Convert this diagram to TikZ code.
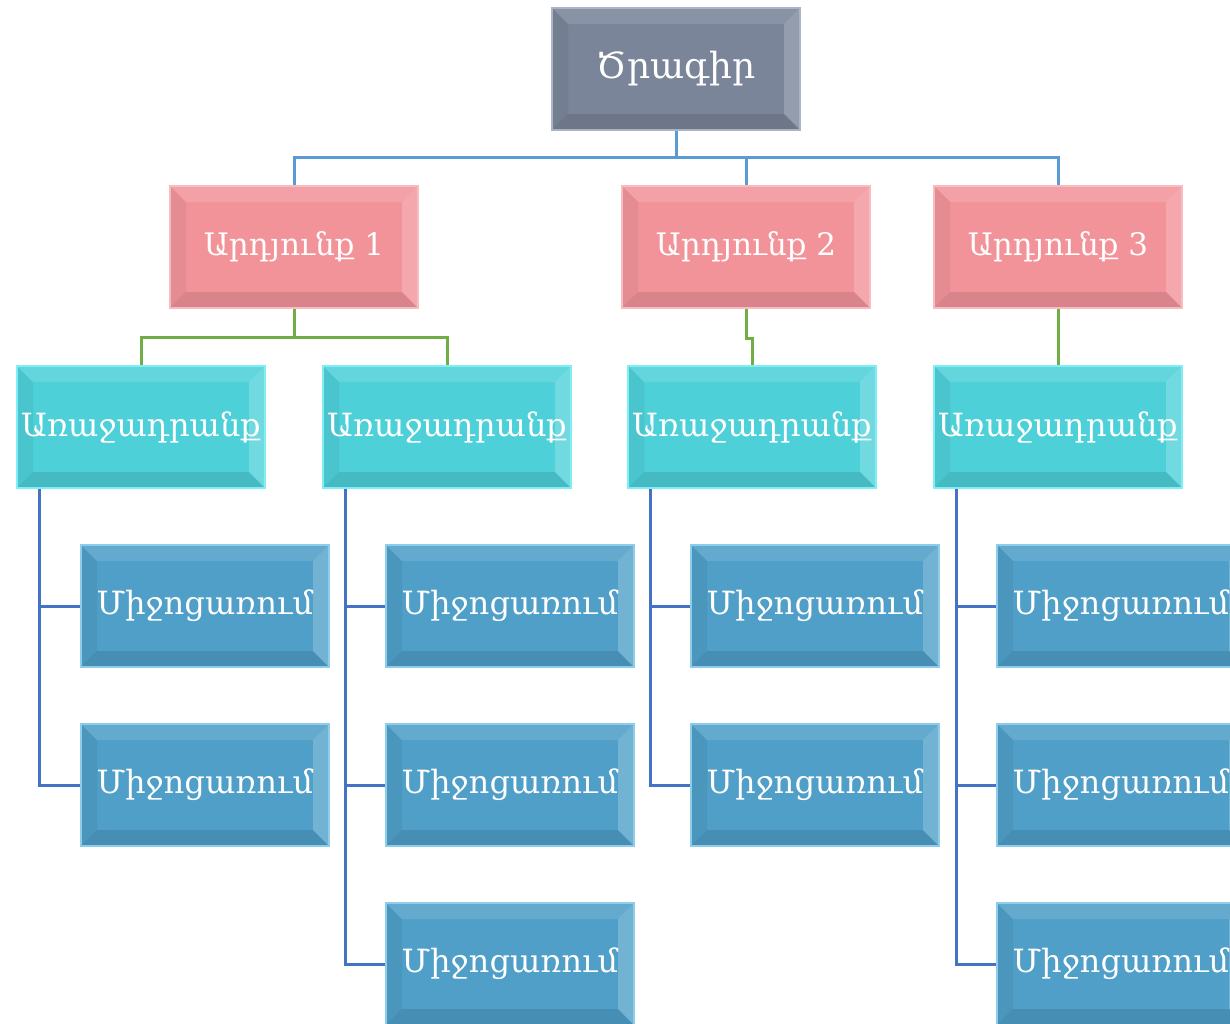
\documentclass[tikz,border=0pt]{standalone}
\usepackage{fontspec}
\newfontfamily\armfont{DejaVu Serif}
\definecolor{rootc}{HTML}{7A8599}
\definecolor{rootb}{HTML}{A9B4C6}
\definecolor{pinkc}{HTML}{F2939A}
\definecolor{pinkb}{HTML}{F7BCC0}
\definecolor{cyanc}{HTML}{4ED0D9}
\definecolor{cyanb}{HTML}{80EEF5}
\definecolor{bluec}{HTML}{4F9FC8}
\definecolor{blueb}{HTML}{8CCDEB}
\definecolor{lineA}{HTML}{5B9BD5}
\definecolor{lineB}{HTML}{70AD47}
\definecolor{lineC}{HTML}{4472C4}
\tikzset{
  bev/.style={
    path picture={
      \fill[white,opacity=0.12] (path picture bounding box.north west) -- (path picture bounding box.north east) -- ([xshift=-16pt,yshift=-16pt]path picture bounding box.north east) -- ([xshift=16pt,yshift=-16pt]path picture bounding box.north west) -- cycle;
      \fill[white,opacity=0.2] (path picture bounding box.north east) -- (path picture bounding box.south east) -- ([xshift=-16pt,yshift=16pt]path picture bounding box.south east) -- ([xshift=-16pt,yshift=-16pt]path picture bounding box.north east) -- cycle;
      \fill[black,opacity=0.1] (path picture bounding box.south west) -- (path picture bounding box.south east) -- ([xshift=-16pt,yshift=16pt]path picture bounding box.south east) -- ([xshift=16pt,yshift=16pt]path picture bounding box.south west) -- cycle;
      \fill[black,opacity=0.05] (path picture bounding box.north west) -- (path picture bounding box.south west) -- ([xshift=16pt,yshift=16pt]path picture bounding box.south west) -- ([xshift=16pt,yshift=-16pt]path picture bounding box.north west) -- cycle;
    }},
  boxbase/.style={bev, rectangle, minimum width=248pt, minimum height=122pt, inner sep=0pt, line width=2pt, text=white, font=\armfont\fontsize{32}{40}\selectfont},
  rootbox/.style={boxbase, fill=rootc, draw=rootb, font=\armfont\fontsize{36}{42}\selectfont},
  resbox/.style={boxbase, fill=pinkc, draw=pinkb, font=\armfont\fontsize{31}{40}\selectfont},
  taskbox/.style={boxbase, fill=cyanc, draw=cyanb},
  actbox/.style={boxbase, fill=bluec, draw=blueb},
  connA/.style={draw=lineA, line width=3pt},
  connB/.style={draw=lineB, line width=3pt},
  connC/.style={draw=lineC, line width=3pt},
}
\begin{document}
\begin{tikzpicture}[x=1pt,y=-1pt]
\useasboundingbox (0,0) rectangle (1230,1023);
\clip (0,0) rectangle (1230,1023);
% nodes
\node[rootbox] (root) at (676,69) {Ծրագիր};
\node[resbox] (a1) at (294,247) {Արդյունք 1};
\node[resbox] (a2) at (746,247) {Արդյունք 2};
\node[resbox] (a3) at (1058,247) {Արդյունք 3};
\node[taskbox] (b1) at (141,427) {Առաջադրանք};
\node[taskbox] (b2) at (447,427) {Առաջադրանք};
\node[taskbox] (b3) at (752,427) {Առաջադրանք};
\node[taskbox] (b4) at (1058,427) {Առաջադրանք};
\node[actbox] (c11) at (205,606) {Միջոցառում};
\node[actbox] (c12) at (205,785) {Միջոցառում};
\node[actbox] (c21) at (510,606) {Միջոցառում};
\node[actbox] (c22) at (510,785) {Միջոցառում};
\node[actbox] (c23) at (510,964) {Միջոցառում};
\node[actbox] (c31) at (815,606) {Միջոցառում};
\node[actbox] (c32) at (815,785) {Միջոցառում};
\node[actbox] (c41) at (1121,606) {Միջոցառում};
\node[actbox] (c42) at (1121,785) {Միջոցառում};
\node[actbox] (c43) at (1121,964) {Միջոցառում};
% connectors level 1
\coordinate (j0) at (676,157);
\draw[connA] (root.south) -- (j0) -| (a1.north);
\draw[connA] (j0) -| (a2.north);
\draw[connA] (j0) -| (a3.north);
% connectors level 2
\coordinate (j1) at (294,337);
\draw[connB] (a1.south) -- (j1) -| (b1.north);
\draw[connB] (j1) -| (b2.north);
\draw[connB] (a2.south) -- ++(0,29) -| (b3.north);
\draw[connB] (a3.south) -- (b4.north);
% connectors level 3
\draw[connC] ([xshift=23pt]b1.south west) |- (c11.west);
\draw[connC] ([xshift=23pt]b1.south west) |- (c12.west);
\draw[connC] ([xshift=23pt]b2.south west) |- (c21.west);
\draw[connC] ([xshift=23pt]b2.south west) |- (c22.west);
\draw[connC] ([xshift=23pt]b2.south west) |- (c23.west);
\draw[connC] ([xshift=23pt]b3.south west) |- (c31.west);
\draw[connC] ([xshift=23pt]b3.south west) |- (c32.west);
\draw[connC] ([xshift=23pt]b4.south west) |- (c41.west);
\draw[connC] ([xshift=23pt]b4.south west) |- (c42.west);
\draw[connC] ([xshift=23pt]b4.south west) |- (c43.west);
\end{tikzpicture}
\end{document}
